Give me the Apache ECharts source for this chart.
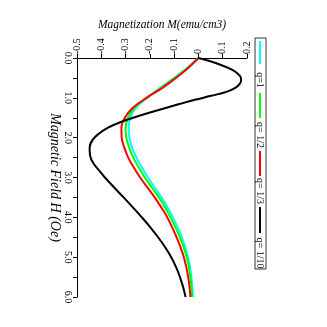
<!DOCTYPE html>
<html>
<head>
<meta charset="utf-8">
<script src="https://cdn.jsdelivr.net/npm/echarts@6/dist/echarts.min.js"></script>
<style>html,body{margin:0;padding:0;background:#fff}#c{width:327px;height:327px}</style>
</head>
<body>
<div id="c"></div>
<script>
// Magnetic field H (Oe) sample points
const fieldH = [0, 0.25, 0.5, 0.75, 1.0, 1.25, 1.5, 1.75, 2.0, 2.25, 2.5, 2.75, 3.0, 3.25, 3.5, 3.75, 4.0, 4.5, 5.0, 5.5, 6.0];
// Magnetization M (emu/cm3) per series
const mQ1    = [0, -0.047, -0.100, -0.158, -0.212, -0.258, -0.280, -0.287, -0.284, -0.273, -0.255, -0.233, -0.208, -0.180, -0.152, -0.127, -0.105, -0.068, -0.042, -0.029, -0.022];
const mQ1_2  = [0, -0.045, -0.097, -0.153, -0.213, -0.263, -0.290, -0.300, -0.297, -0.285, -0.268, -0.246, -0.221, -0.192, -0.163, -0.137, -0.115, -0.076, -0.048, -0.033, -0.026];
const mQ1_3  = [0, -0.042, -0.093, -0.148, -0.214, -0.270, -0.303, -0.317, -0.316, -0.305, -0.289, -0.266, -0.240, -0.210, -0.180, -0.153, -0.128, -0.090, -0.060, -0.042, -0.033];
// q=1/10 has its own sampling (sharper features)
const fieldH10 = [0, 0.15, 0.3, 0.45, 0.55, 0.65, 0.75, 0.85, 0.95, 1.05, 1.15, 1.3, 1.45, 1.6, 1.75, 1.9, 2.05, 2.25, 2.45, 2.65, 2.85, 3.0, 3.25, 3.5, 3.75, 4.0, 4.25, 4.5, 4.75, 5.0, 5.25, 5.5, 5.75, 6.0];
const mQ1_10   = [0, 0.082, 0.140, 0.171, 0.176, 0.170, 0.152, 0.115, 0.052, -0.015, -0.075, -0.160, -0.243, -0.317, -0.372, -0.410, -0.435, -0.448, -0.446, -0.432, -0.405, -0.385, -0.347, -0.308, -0.270, -0.233, -0.198, -0.166, -0.137, -0.112, -0.092, -0.076, -0.063, -0.053];
const seriesNames = ['q=1', 'q= 1/2', 'q= 1/3', 'q= 1/10'];
const seriesColors = ['#00ffff', '#00ff00', '#ff0000', '#000000'];
const xTicks = { min: -0.5, max: 0.2, step: 0.1 };
const yTicks = { min: 0, max: 6, step: 1 };

const FONT = 'Liberation Serif, Times New Roman, serif';
function pairs(ms, hs) { return ms.map((m, i) => [m, hs[i]]); }
const allData = [pairs(mQ1, fieldH), pairs(mQ1_2, fieldH), pairs(mQ1_3, fieldH), pairs(mQ1_10, fieldH10)];

const chart = echarts.init(document.getElementById('c'), null, { renderer: 'canvas' });

// legend (vertical, rotated text) built from names/colors
const legendX = 260;
const lineSpans = [[41, 64], [93, 118], [151, 176], [207, 233]];
const textCenters = [80, 135, 191, 253];
const graphics = [{
  type: 'rect', shape: { x: 255, y: 38, width: 11, height: 231 },
  style: { fill: '#fff', stroke: '#333', lineWidth: 1 }, z: 10
}];
seriesNames.forEach((n, i) => {
  graphics.push({
    type: 'line', shape: { x1: legendX, y1: lineSpans[i][0], x2: legendX, y2: lineSpans[i][1] },
    style: { stroke: seriesColors[i], lineWidth: 2 }, z: 11
  });
  graphics.push({
    type: 'text', x: legendX, y: textCenters[i], rotation: -Math.PI / 2,
    style: { text: n, fill: '#000', font: '10px ' + FONT, textAlign: 'center', textVerticalAlign: 'middle' }, z: 11
  });
});

chart.setOption({
  animation: false,
  backgroundColor: '#fff',
  grid: { left: 77, top: 58, right: 80, bottom: 30, containLabel: false },
  xAxis: {
    type: 'value', position: 'top', min: xTicks.min, max: xTicks.max, interval: xTicks.step,
    name: 'Magnetization M(emu/cm3)', nameLocation: 'middle', nameGap: 27, nameMoveOverlap: false,
    nameTextStyle: { fontFamily: FONT, fontStyle: 'italic', fontSize: 11.5, color: '#000' },
    axisLine: { show: true, onZero: false, lineStyle: { color: '#000', width: 1 } },
    axisTick: { show: true, inside: false, length: 4, lineStyle: { color: '#000' } },
    axisLabel: {
      rotate: -90, fontFamily: FONT, fontSize: 10, color: '#000', margin: 4,
      formatter: v => (Math.abs(v) < 1e-9 ? '0' : v.toFixed(1))
    },
    splitLine: { show: false }
  },
  yAxis: {
    type: 'value', inverse: true, min: yTicks.min, max: yTicks.max, interval: yTicks.step,
    name: 'Magnetic Field H (Oe)', nameLocation: 'middle', nameGap: 15, nameRotate: -90, nameMoveOverlap: false,
    nameTextStyle: { fontFamily: FONT, fontStyle: 'italic', fontSize: 14, color: '#000' },
    axisLine: { show: true, onZero: false, lineStyle: { color: '#000', width: 1 } },
    axisTick: { show: true, inside: false, length: 4, lineStyle: { color: '#000' } },
    minorTick: { show: true, splitNumber: 2, length: 4, lineStyle: { color: '#000' } },
    axisLabel: {
      rotate: -90, fontFamily: FONT, fontSize: 10, color: '#000', margin: 4,
      formatter: v => v.toFixed(1)
    },
    splitLine: { show: false }
  },
  series: allData.map((d, i) => ({
    name: seriesNames[i], type: 'line', data: d, smooth: 0.4, showSymbol: false,
    lineStyle: { color: seriesColors[i], width: 2 }, itemStyle: { color: seriesColors[i] },
    z: 2 + i
  })),
  graphic: graphics
});
</script>
</body>
</html>
